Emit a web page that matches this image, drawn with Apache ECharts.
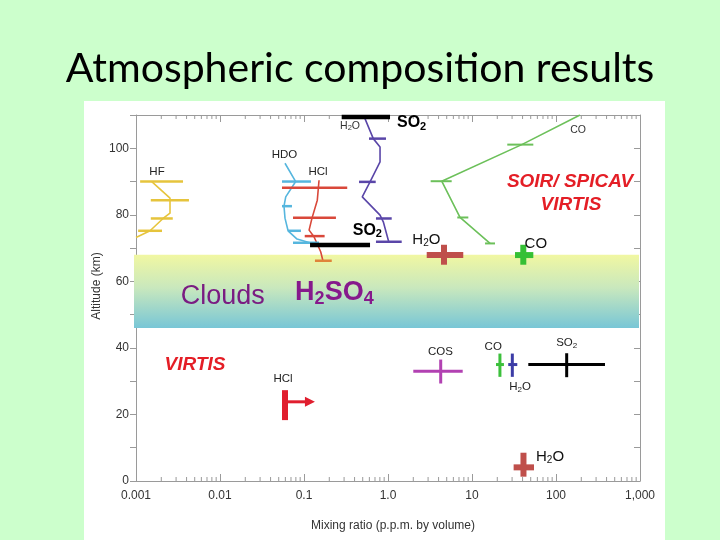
<!DOCTYPE html>
<html><head><meta charset="utf-8">
<script src="https://cdn.jsdelivr.net/npm/echarts@6/dist/echarts.min.js"></script>
<style>html,body{margin:0;padding:0;background:#ccffcc}#c{width:720px;height:540px}</style>
</head><body><div id="c"></div>
<script>
// ---------- axis tick labels ----------
const xTickLabels = ['0.001', '0.01', '0.1', '1.0', '10', '100', '1,000'];
const yTickLabels = ['0', '20', '40', '60', '80', '100'];

// ---------- SOIR/SPICAV profiles: [mixing ratio (ppm), altitude (km)] ----------
const hfProfile  = [[0.00154, 90], [0.00254, 85], [0.00254, 80.5], [0.00210, 78.9], [0.00147, 75.2], [0.001, 73.2]];
const hdoProfile = [[0.0594, 95.5], [0.0796, 90], [0.0606, 85.4], [0.0578, 82.6], [0.0594, 79], [0.0646, 75.2], [0.0827, 72.7], [0.1315, 71.2]];
const hclProfile = [[0.151, 90.4], [0.144, 84.4], [0.1245, 79], [0.115, 75.4], [0.1315, 73.4], [0.158, 68.9], [0.168, 66.2]];
const h2oProfile = [[0.532, 108.9], [0.668, 102.9], [0.804, 100.4], [0.804, 95.9], [0.611, 89.9], [0.494, 85.4], [0.804, 79.9], [0.879, 77.9], [1.02, 71.9]];
const coProfile  = [[193, 110], [39.1, 101.1], [4.36, 90.1], [7.2, 79.2], [16.4, 71.4]];

// ---------- error bars: [low, high, altitude] ----------
const hfBars  = [[0.00112, 0.00363, 90], [0.00150, 0.00427, 84.4], [0.00150, 0.00274, 78.9], [0.00106, 0.00204, 75.2]];
const hdoBars = [[0.0547, 0.121, 90], [0.0547, 0.0719, 82.6], [0.0646, 0.092, 75.2], [0.0740, 0.151, 71.6]];
const hclBars = [[0.0547, 0.327, 88.1], [0.0740, 0.240, 79.1], [0.102, 0.176, 73.6]];
const hclCloudTopBar = [[0.135, 0.214, 66.2]];
const h2oBars = [[0.594, 0.946, 102.9], [0.452, 0.714, 89.9], [0.719, 1.107, 78.9], [0.719, 1.456, 71.9]];
const coBars  = [[26.3, 53.7, 101.1], [3.22, 5.73, 90.1], [6.68, 9.04, 79.2], [14.3, 18.8, 71.4]];
const so2Bars = [[0.281, 1.057, 109.4], [0.118, 0.611, 70.9]];

// ---------- crosses: [value, low, high, altitude, altLow, altHigh] ----------
const h2oVirtisCrosses = [[4.64, 2.89, 7.87, 67.9, 65, 71], [41, 31.3, 54.7, 4.1, 1.3, 8.5]];
const coVirtisCross    = [[40.8, 32.5, 53.7, 67.9, 65, 71]];
const cosCross         = [[4.24, 2.0, 7.75, 33, 29.3, 36.5]];
const coDeepCross      = [[21.5, 19.3, 24.0, 35, 31.3, 38.3]];
const h2oDeepCross     = [[30.2, 27.0, 34.6, 35, 31.3, 38.3]];
const so2DeepCross     = [[134, 46.8, 383, 35, 31.2, 38.4]];

// HCl lower limit: [value, altLow, altHigh, arrowTo, altArrow]
const hclLimit = [[0.0594, 18.3, 27.3, 0.135, 23.8]];

// cloud layer: [xmin, xmax, top km, bottom km]
const cloudLayer = [[0.001, 1000, 68, 46]];

// ---------- text labels ----------
const labelText = ['HF', 'HDO', 'HCl', 'H{s|2}O', 'CO', 'SO{s|2}', 'SO{s|2}', 'H{s|2}O', 'CO',
  'SOIR/ SPICAV', 'VIRTIS', 'Clouds', 'H{s|2}SO{s|4}', 'VIRTIS', 'HCl', 'COS', 'CO', 'H{s|2}O', 'SO{s|2}', 'H{s|2}O'];
const labelX = [0.00178, 0.0586, 0.147, 0.353, 183, 1.91, 0.568, 2.86, 57.5,
  147, 151, 0.0108, 0.230, 0.00504, 0.0562, 4.22, 17.9, 37.3, 134, 84.9];
const labelY = [92.9, 97.9, 92.9, 106.6, 105.6, 107.6, 75.4, 72.4, 71.2,
  89.9, 82.9, 55.3, 56.5, 35.0, 30.6, 38.8, 40.3, 28.3, 41.4, 7.3];
const labelKind = ['small', 'small', 'small', 'tiny', 'tiny', 'bold', 'bold', 'med', 'med',
  'red', 'red', 'clouds', 'acid', 'red', 'small', 'small', 'small', 'small', 'small', 'med'];

const FONT = '"Liberation Sans", Arial, sans-serif';
const STYLES = {
  tiny:   {size: 10.5, sub: 7.5, lh: 12, drop: 15, weight: 'normal', style: 'normal', color: '#333'},
  small:  {size: 11.5, sub: 8,   lh: 13, drop: 16, weight: 'normal', style: 'normal', color: '#222'},
  med:    {size: 15,   sub: 10,  lh: 17, drop: 21, weight: 'normal', style: 'normal', color: '#111'},
  bold:   {size: 16,   sub: 11,  lh: 18, drop: 23, weight: 'bold',   style: 'normal', color: '#000'},
  red:    {size: 19,   sub: 12,  lh: 22, drop: 22, weight: 'bold',   style: 'italic', color: '#e41e26'},
  clouds: {size: 27,   sub: 18,  lh: 30, drop: 30, weight: 'normal', style: 'normal', color: '#7a1c82'},
  acid:   {size: 27,   sub: 18,  lh: 30, drop: 38, weight: 'bold',   style: 'normal', color: '#86198c'}
};

const chart = echarts.init(document.getElementById('c'), null, {renderer: 'canvas', width: 720, height: 540});

function lineSeries(data, color, width) {
  return {type: 'line', data, z: 4, showSymbol: false, symbol: 'none', silent: true, animation: false,
    lineStyle: {color, width}, itemStyle: {color}};
}
function hBarSeries(data, color, width) {
  return {type: 'custom', data, z: 5, silent: true, encode: {x: [0, 1], y: 2},
    renderItem: (p, api) => {
      const a = api.coord([api.value(0), api.value(2)]);
      const b = api.coord([api.value(1), api.value(2)]);
      return {type: 'line', shape: {x1: a[0], y1: a[1], x2: b[0], y2: b[1]},
        style: {stroke: color, lineWidth: width, lineCap: 'butt'}};
    }};
}
function crossSeries(data, color, width) {
  return {type: 'custom', data, z: 6, silent: true, encode: {x: [0, 1, 2], y: [3, 4, 5]},
    renderItem: (p, api) => {
      const l = api.coord([api.value(1), api.value(3)]);
      const r = api.coord([api.value(2), api.value(3)]);
      const t = api.coord([api.value(0), api.value(5)]);
      const b = api.coord([api.value(0), api.value(4)]);
      return {type: 'group', children: [
        {type: 'line', shape: {x1: l[0], y1: l[1], x2: r[0], y2: r[1]}, style: {stroke: color, lineWidth: width}},
        {type: 'line', shape: {x1: t[0], y1: t[1], x2: b[0], y2: b[1]}, style: {stroke: color, lineWidth: width}}
      ]};
    }};
}

// minor log ticks on top / bottom frame
const minorTickValues = [];
for (let e = -3; e < 3; e++) for (let m = 2; m <= 9; m++) minorTickValues.push([m * Math.pow(10, e), 0]);

const option = {
  animation: false,
  backgroundColor: '#ccffcc',
  title: {text: 'Atmospheric composition results', left: 'center', top: 48, padding: 0,
    textStyle: {fontFamily: 'Lato, "Open Sans", sans-serif', fontSize: 41, fontWeight: 'normal', color: '#000'}},
  graphic: [
    {type: 'rect', z: -10, shape: {x: 84, y: 101, width: 581, height: 439}, style: {fill: '#ffffff'}},
    {type: 'text', z: 10, x: 97, y: 286, rotation: Math.PI / 2,
      style: {text: 'Altitude (km)', fill: '#333', fontSize: 12, fontFamily: FONT, align: 'center', verticalAlign: 'middle'}}
  ],
  grid: {left: 136, right: 80, top: 115, bottom: 59, containLabel: false},
  xAxis: [
    {type: 'log', logBase: 10, min: 0.001, max: 1000, position: 'bottom',
      axisLine: {show: true, onZero: false, lineStyle: {color: '#9a9a9a', width: 1}},
      axisTick: {show: true, inside: true, length: 7, lineStyle: {color: '#9a9a9a'}},
      axisLabel: {color: '#333', fontSize: 12, fontFamily: FONT, margin: 9,
        formatter: v => xTickLabels[Math.round(Math.log10(v)) + 3] || ''},
      splitLine: {show: false},
      name: 'Mixing ratio (p.p.m. by volume)', nameLocation: 'middle', nameGap: 39,
      nameTextStyle: {color: '#333', fontSize: 12, fontFamily: FONT, padding: [0, 0, 0, 10]}},
    {type: 'log', logBase: 10, min: 0.001, max: 1000, position: 'top',
      axisLine: {show: true, onZero: false, lineStyle: {color: '#9a9a9a', width: 1}},
      axisTick: {show: true, inside: true, length: 7, lineStyle: {color: '#9a9a9a'}},
      axisLabel: {show: false}, splitLine: {show: false}}
  ],
  yAxis: [
    {type: 'value', min: 0, max: 110, interval: 10, position: 'left',
      axisLine: {show: true, onZero: false, lineStyle: {color: '#9a9a9a', width: 1}},
      axisTick: {show: true, inside: false, length: 6, lineStyle: {color: '#9a9a9a'}},
      axisLabel: {color: '#333', fontSize: 12, fontFamily: FONT, margin: 7,
        formatter: v => yTickLabels.includes(String(v)) ? String(v) : ''},
      splitLine: {show: false}},
    {type: 'value', min: 0, max: 110, interval: 10, position: 'right',
      axisLine: {show: true, onZero: false, lineStyle: {color: '#9a9a9a', width: 1}},
      axisTick: {show: true, inside: true, length: 6, lineStyle: {color: '#9a9a9a'}},
      axisLabel: {show: false}, splitLine: {show: false}}
  ],
  series: [
    // cloud band
    {type: 'custom', data: cloudLayer, z: 1, silent: true, encode: {x: [0, 1], y: [2, 3]},
      renderItem: (p, api) => {
        const a = api.coord([api.value(0), api.value(2)]);
        const b = api.coord([api.value(1), api.value(3)]);
        return {type: 'rect', shape: {x: a[0] - 2, y: a[1], width: b[0] - a[0] + 1, height: b[1] - a[1]},
          style: {fill: new echarts.graphic.LinearGradient(0, 0, 0, 1, [
            {offset: 0, color: '#f1f7a2'}, {offset: 0.45, color: '#c9e8bd'}, {offset: 1, color: '#78c6d6'}])}};
      }},
    // minor ticks
    {type: 'custom', data: minorTickValues, z: 2, silent: true, encode: {x: 0, y: 1},
      renderItem: (p, api) => {
        const b = api.coord([api.value(0), 0]);
        const t = api.coord([api.value(0), 110]);
        return {type: 'group', children: [
          {type: 'line', shape: {x1: b[0], y1: b[1], x2: b[0], y2: b[1] - 4}, style: {stroke: '#9a9a9a', lineWidth: 1}},
          {type: 'line', shape: {x1: t[0], y1: t[1], x2: t[0], y2: t[1] + 4}, style: {stroke: '#9a9a9a', lineWidth: 1}}
        ]};
      }},
    lineSeries(hfProfile, '#e6c43c', 1.6),
    lineSeries(hdoProfile, '#56b6de', 1.6),
    lineSeries(hclProfile, '#d9483a', 1.6),
    lineSeries(h2oProfile, '#5a46a8', 1.6),
    lineSeries(coProfile, '#6cc05a', 1.6),
    hBarSeries(hfBars, '#e6c43c', 2.5),
    hBarSeries(hdoBars, '#56b6de', 2.5),
    hBarSeries(hclBars, '#d9483a', 2.5),
    hBarSeries(hclCloudTopBar, '#e0843a', 2.5),
    hBarSeries(h2oBars, '#5a46a8', 2.5),
    hBarSeries(coBars, '#6cc05a', 2),
    hBarSeries(so2Bars, '#000000', 4.5),
    crossSeries(h2oVirtisCrosses, '#bf4f4b', 6),
    crossSeries(coVirtisCross, '#35c035', 6),
    crossSeries(cosCross, '#b241b2', 3),
    crossSeries(coDeepCross, '#3cc03c', 3),
    crossSeries(h2oDeepCross, '#3c3ca6', 3),
    crossSeries(so2DeepCross, '#000000', 3),
    // HCl lower limit with arrow
    {type: 'custom', data: hclLimit, z: 6, silent: true, encode: {x: [0, 3], y: [1, 2, 4]},
      renderItem: (p, api) => {
        const b = api.coord([api.value(0), api.value(1)]);
        const t = api.coord([api.value(0), api.value(2)]);
        const s = api.coord([api.value(0), api.value(4)]);
        const e = api.coord([api.value(3), api.value(4)]);
        const col = '#e01e2e';
        return {type: 'group', children: [
          {type: 'line', shape: {x1: t[0], y1: t[1], x2: b[0], y2: b[1]}, style: {stroke: col, lineWidth: 6}},
          {type: 'line', shape: {x1: s[0], y1: s[1], x2: e[0] - 8, y2: e[1]}, style: {stroke: col, lineWidth: 3}},
          {type: 'polygon', shape: {points: [[e[0], e[1]], [e[0] - 10, e[1] - 5], [e[0] - 10, e[1] + 5]]}, style: {fill: col}}
        ]};
      }},
    // text labels
    {type: 'custom', data: labelX.map((x, i) => [x, labelY[i]]), z: 8, silent: true, encode: {x: 0, y: 1},
      renderItem: (p, api) => {
        const i = p.dataIndex;
        const st = STYLES[labelKind[i]];
        const pt = api.coord([api.value(0), api.value(1)]);
        return {type: 'text', x: pt[0], y: pt[1],
          style: {text: labelText[i], fill: st.color, fontSize: st.size, fontFamily: FONT,
            fontWeight: st.weight, fontStyle: st.style, lineHeight: st.lh,
            align: 'center', verticalAlign: 'middle',
            rich: {s: {fill: st.color, fontSize: st.sub, fontFamily: FONT, fontWeight: st.weight,
              fontStyle: st.style, lineHeight: st.sub, verticalAlign: 'bottom', padding: [st.drop - st.lh, 0, 0, 0]}}}};
      }}
  ]
};
chart.setOption(option);
</script>
</body></html>
